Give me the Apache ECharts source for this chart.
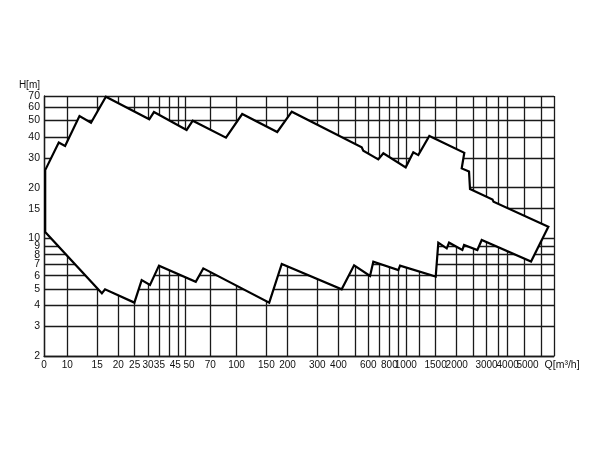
<!DOCTYPE html>
<html>
<head>
<meta charset="utf-8">
<title>H-Q range chart</title>
<script src="https://cdn.jsdelivr.net/npm/echarts@6/dist/echarts.min.js"></script>
<style>
  html, body { margin: 0; padding: 0; background: #fff; }
  #main { width: 600px; height: 450px; }
</style>
</head>
<body>
<div id="main"></div>
<script>
// axis range (Q left edge is labelled "0")
var qMin = 7.28, qMax = 7516;
var hMin = 2, hMax = 70;

// grid lines and labels (the label at qMax is left blank)
var gridQ = [qMin, 10, 15, 20, 25, 30, 35, 40, 45, 50, 70, 100, 150, 200, 300, 400, 500, 600, 700, 800, 900,
             1000, 1200, 1500, 2000, 2500, 3000, 3500, 4000, 5000, 6300, qMax];
var labelQ = [qMin, 10, 15, 20, 25, 30, 35, 45, 50, 70, 100, 150, 200, 300, 400, 600, 800, 1000, 1500, 2000, 3000, 4000, 5000, qMax];
var gridH = [2, 3, 4, 5, 6, 7, 8, 9, 10, 15, 20, 30, 40, 50, 60, 70];

// outline of the working range: upper edge left->right, then lower edge right->left
var outlineQ = [7.4, 7.4, 8.9, 9.7, 11.8, 13.8, 16.9, 30.5, 32.5, 50.7, 55.1, 86.6, 108, 174, 212,
                549, 561, 688, 737, 999, 1108, 1186, 1378, 2218, 2141, 2365, 2397, 3256, 3300, 6960,
                5500, 2811, 2648, 2210, 2159, 1802, 1746, 1557, 1503, 925, 904, 643, 615, 495, 418,
                185, 156, 63.6, 57.4, 34.8, 30.8, 27.5, 24.9, 16.7, 16.0];
var outlineH = [10.9, 25.4, 37.0, 35.3, 53.2, 48.6, 69.3, 50.9, 56.2, 44.0, 49.9, 39.6, 54.7, 42.8, 56.5,
                34.7, 33.1, 29.4, 32.0, 26.4, 32.4, 31.2, 40.5, 32.2, 26.0, 24.9, 19.6, 17.0, 16.5, 11.7,
                7.28, 9.77, 8.52, 9.12, 8.52, 9.42, 8.72, 9.42, 5.92, 6.88, 6.48, 7.26, 5.97, 6.91, 4.98,
                7.04, 4.15, 6.63, 5.52, 6.88, 5.28, 5.65, 4.15, 4.98, 4.71];

var chart = echarts.init(document.getElementById('main'));
var lineCol = '#1a1a1a';
var font = 'Liberation Sans, Arial, sans-serif';

var option = {
  animation: false,
  backgroundColor: '#fff',
  grid: { left: 44, right: 46, top: 96, bottom: 94 },
  xAxis: {
    type: 'log', logBase: 10, min: qMin, max: qMax,
    name: 'Q[m³/h]', nameLocation: 'end', nameGap: -12,
    nameTextStyle: { color: '#111', fontFamily: font, fontSize: 10.5, verticalAlign: 'top', padding: [4, 0, 0, 0] },
    axisLine: { show: true, lineStyle: { color: lineCol, width: 1.3 } },
    axisTick: { show: false, customValues: gridQ },
    axisLabel: {
      customValues: labelQ, margin: 4, hideOverlap: false, interval: 0,
      showMinLabel: true, showMaxLabel: true,
      color: '#111', fontFamily: font, fontSize: 10,
      formatter: function (v) {
        if (v < 9) return '0';
        if (v > 6000) return '';
        var s = String(Math.round(v));
        // crowded labels sit slightly apart in the original
        if (s === '45') return '{l|45}';
        if (s === '50') return '{r|50}';
        if (s === '5000') return '{r2|5000}';
        return s;
      },
      rich: {
        l: { padding: [0, 5, 0, 0], fontFamily: font, fontSize: 10, color: '#111' },
        r: { padding: [0, 0, 0, 7], fontFamily: font, fontSize: 10, color: '#111' },
        r2: { padding: [0, 0, 0, 7], fontFamily: font, fontSize: 10, color: '#111' }
      }
    },
    splitLine: { show: true, lineStyle: { color: lineCol, width: 1.3 } }
  },
  yAxis: {
    type: 'log', logBase: 10, min: hMin, max: hMax,
    name: 'H[m]', nameLocation: 'end', nameGap: 3,
    nameTextStyle: { color: '#111', fontFamily: font, fontSize: 10, align: 'right', padding: [0, 4, 0, 0] },
    axisLine: { show: true, lineStyle: { color: lineCol, width: 1.3 } },
    axisTick: { show: false, customValues: gridH },
    axisLabel: {
      customValues: gridH, margin: 4, hideOverlap: false, showMinLabel: true, showMaxLabel: true,
      color: '#111', fontFamily: font, fontSize: 10.5
    },
    splitLine: { show: true, lineStyle: { color: lineCol, width: 1.3 } }
  },
  series: [{
    type: 'custom',
    coordinateSystem: 'cartesian2d',
    data: [[outlineQ[0], outlineH[0]]],
    encode: { x: 0, y: 1 },
    clip: false,
    z: 5,
    renderItem: function (params, api) {
      var pts = [];
      for (var i = 0; i < outlineQ.length; i++) {
        pts.push(api.coord([outlineQ[i], outlineH[i]]));
      }
      return {
        type: 'polygon',
        shape: { points: pts },
        style: { fill: '#fff', stroke: '#000', lineWidth: 2.2, lineJoin: 'miter' }
      };
    }
  }]
};

chart.setOption(option);
</script>
</body>
</html>
